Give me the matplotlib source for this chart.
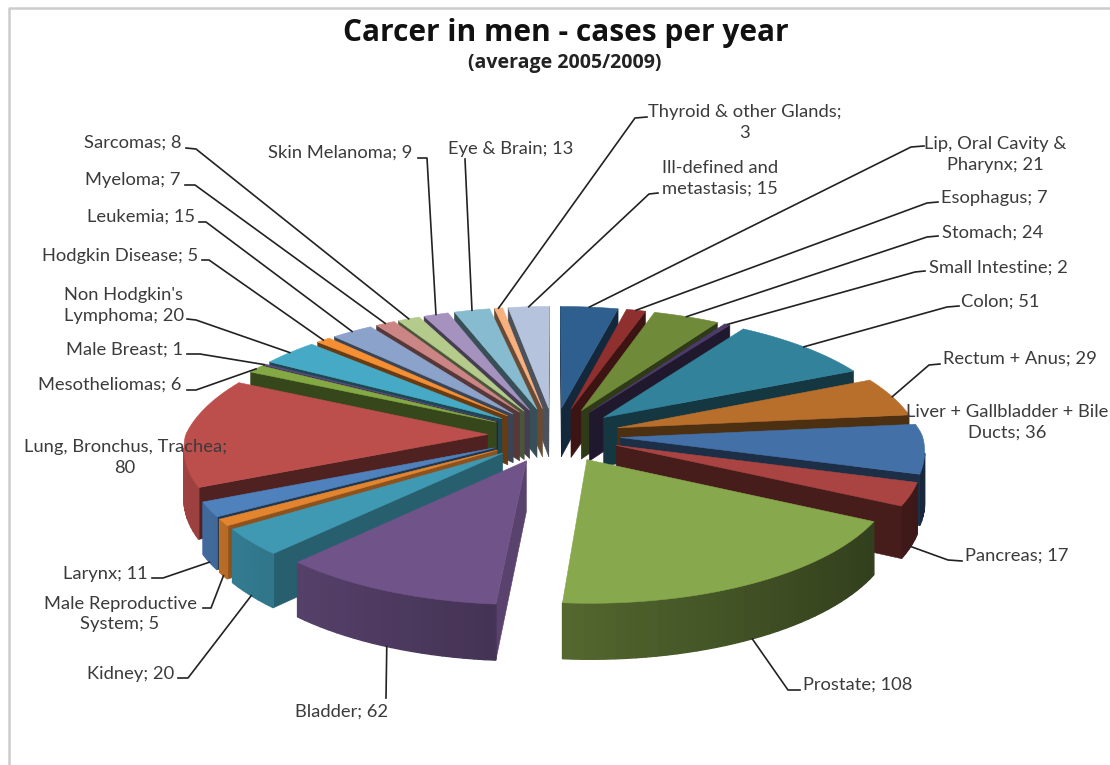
import numpy as np
import matplotlib
matplotlib.use("Agg")
import matplotlib.pyplot as plt
from matplotlib.patches import Polygon

# ---------- data ----------
categories = ["Lip, Oral Cavity &\nPharynx", "Esophagus", "Stomach", "Small Intestine", "Colon",
              "Rectum + Anus", "Liver + Gallbladder + Bile\nDucts", "Pancreas", "Prostate", "Bladder",
              "Kidney", "Male Reproductive\nSystem", "Larynx", "Lung, Bronchus, Trachea;\n", "Mesotheliomas",
              "Male Breast", "Non Hodgkin's\nLymphoma", "Hodgkin Disease", "Leukemia", "Myeloma",
              "Sarcomas", "Skin Melanoma", "Eye & Brain", "Thyroid & other Glands;\n",
              "Ill-defined and\nmetastasis"]
values = [21, 7, 24, 2, 51, 29, 36, 17, 108, 62, 20, 5, 11, 80, 6, 1, 20, 5, 15, 7, 8, 9, 13, 3, 15]
colors = ["#2F5F8F", "#8F302E", "#6F8A38", "#4C3A6C", "#31829A", "#B86F2C", "#4470A8", "#A94442",
          "#87A84C", "#6F5389", "#3F99B3", "#E3852F", "#4F81BD", "#BC4E4C", "#84A843", "#5F4A80",
          "#46AAC6", "#F68F31", "#8BA2CB", "#CC8585", "#B4CB8C", "#A592BE", "#86BBD0", "#F9B07F",
          "#B5C4DC"]
title = "Carcer in men - cases per year"
subtitle = "(average 2005/2009)"

# ---------- layout ----------
W, H_PX = 1110, 765
CX, CY, RX, RY, K_BACK, K_FRONT, EXPL, THICK = 554, 435, 302, 126, 0.16, 0.09, 0.22, 50
# label centre x, first-line y, then leader polyline from the text to the elbow (None = no leader)
label_layout = [
    (995, 143, [(924, 146), (911, 147)]), (994, 197, [(938, 202), (927, 203)]),
    (993, 232, [(938, 236), (927, 237)]), (998, 267, [(925, 271), (915, 272)]),
    (1000, 301, [(959, 306), (947, 307)]), (1020, 358, [(940, 364), (929, 365)]),
    (1007, 411, None), (1017, 555, [(962, 561), (948, 560)]),
    (858, 684, [(800, 690), (788, 690)]), (342, 711, [(386, 698)]),
    (131, 673, [(178, 678), (188, 678)]), (120, 603, [(203, 608), (211, 608)]),
    (105, 573, [(152, 578), (163, 578)]), (125, 446, None),
    (110, 384, [(187, 390), (196, 390)]), (124, 349, [(187, 354), (200, 354)]),
    (124, 294, [(187, 319), (196, 320)]), (120, 255, [(202, 260), (209, 260)]),
    (141, 216, [(199, 222), (206, 222)]), (133, 179, [(185, 185), (195, 185)]),
    (133, 142, [(186, 148), (196, 149)]), (340, 152, [(418, 158), (427, 158)]),
    (511, 148, [(465, 159)]), (745, 111, [(647, 117), (635, 118)]),
    (720, 167, [(658, 193), (649, 194)]),
]
FONT = "Lato"
TXT = "#3b3b3b"


def project(x, y, z=0.0):
    s = 1.0 / (1.0 + (K_BACK if y > 0 else K_FRONT) * y)
    return CX + RX * x * s, CY - RY * y * s + THICK * s * z


def shade(col, f):
    return tuple(min(1, c * f) for c in matplotlib.colors.to_rgb(col))


fig = plt.figure(figsize=(W / 100, H_PX / 100), dpi=100, facecolor="white")
ax = fig.add_axes([0, 0, 1, 1])
ax.set_xlim(0, W)
ax.set_ylim(H_PX, 0)
ax.axis("off")

# border of the pasted picture
ax.plot([8.5, 8.5, W], [H_PX, 7.5, 7.5], color="#cccccc", lw=1.8, zorder=1)

frac = np.cumsum([0] + values) / sum(values) * 2 * np.pi
starts, ends = frac[:-1], frac[1:]
mids = (starts + ends) / 2
order = np.argsort(-np.cos(mids))
anchors = {}


def poly(pts, fc, z, lw=0.4):
    ax.add_patch(Polygon(pts, closed=True, fc=fc, ec=fc, lw=lw, zorder=z))


z = 5
for i in order:
    a0, a1, m, col = starts[i], ends[i], mids[i], colors[i]
    ax0, ay0 = EXPL * np.sin(m), EXPL * np.cos(m)
    n = max(4, int((a1 - a0) / 0.03))
    th = np.linspace(a0, a1, n)
    ox, oy = ax0 + np.sin(th), ay0 + np.cos(th)
    # walls, culled by screen orientation (the top face is drawn last)
    outline = [(ax0, ay0)] + list(zip(ox, oy))
    for j in range(len(outline)):
        p, q = outline[j], outline[(j + 1) % len(outline)]
        a, b = project(*p), project(*q)
        c, d = project(*q, 1), project(*p, 1)
        quad = [a, b, c, d]
        area = sum(quad[k][0] * quad[(k + 1) % 4][1] - quad[(k + 1) % 4][0] * quad[k][1] for k in range(4))
        if area >= 0:
            continue
        if j == 0 or j == len(outline) - 1:
            f = 0.42
            if np.sin(m) < 0 and np.cos(m) < -0.85:
                f = 0.8
            elif np.sin(m) < 0 and np.cos(m) < -0.5:
                f = 0.62
            poly(quad, shade(col, f), z)
        else:
            f = 0.6 - 0.25 * np.sin(th[j - 1])
            poly(quad, shade(col, f), z, lw=1.0)
    poly([project(*p) for p in outline], col, z + 0.5)
    # anchor of the leader on the wedge
    zt = 1 if np.cos(m) < -0.15 else 0
    anchors[i] = project(ax0 + np.sin(m), ay0 + np.cos(m), zt)
    z += 1

# labels and leaders
for i, (name, val, lay) in enumerate(zip(categories, values, label_layout)):
    lx, ly, leader = lay
    if name.endswith(";\n"):
        txt = f"{name}{val}"
    else:
        txt = f"{name}; {val}"
    lines = txt.split("\n")
    for k, line in enumerate(lines):
        ax.text(lx, ly + 1 + k * 20.5, line, ha="center", va="center", fontsize=13.2, family=FONT,
                color=TXT, zorder=80)
    if leader:
        pts = leader + [anchors[i]]
        ax.plot([p[0] for p in pts], [p[1] for p in pts], color="#222222", lw=1.2, zorder=70,
                solid_joinstyle="round")

ax.text(566, 33, title, ha="center", va="center", fontsize=21.5, fontweight="bold", family="Open Sans",
        color="#111111", zorder=90)
ax.text(565, 63, subtitle, ha="center", va="center", fontsize=14, fontweight="bold", family="Open Sans",
        color="#222222", zorder=90)

fig.savefig("out.png", dpi=100, facecolor="white")
